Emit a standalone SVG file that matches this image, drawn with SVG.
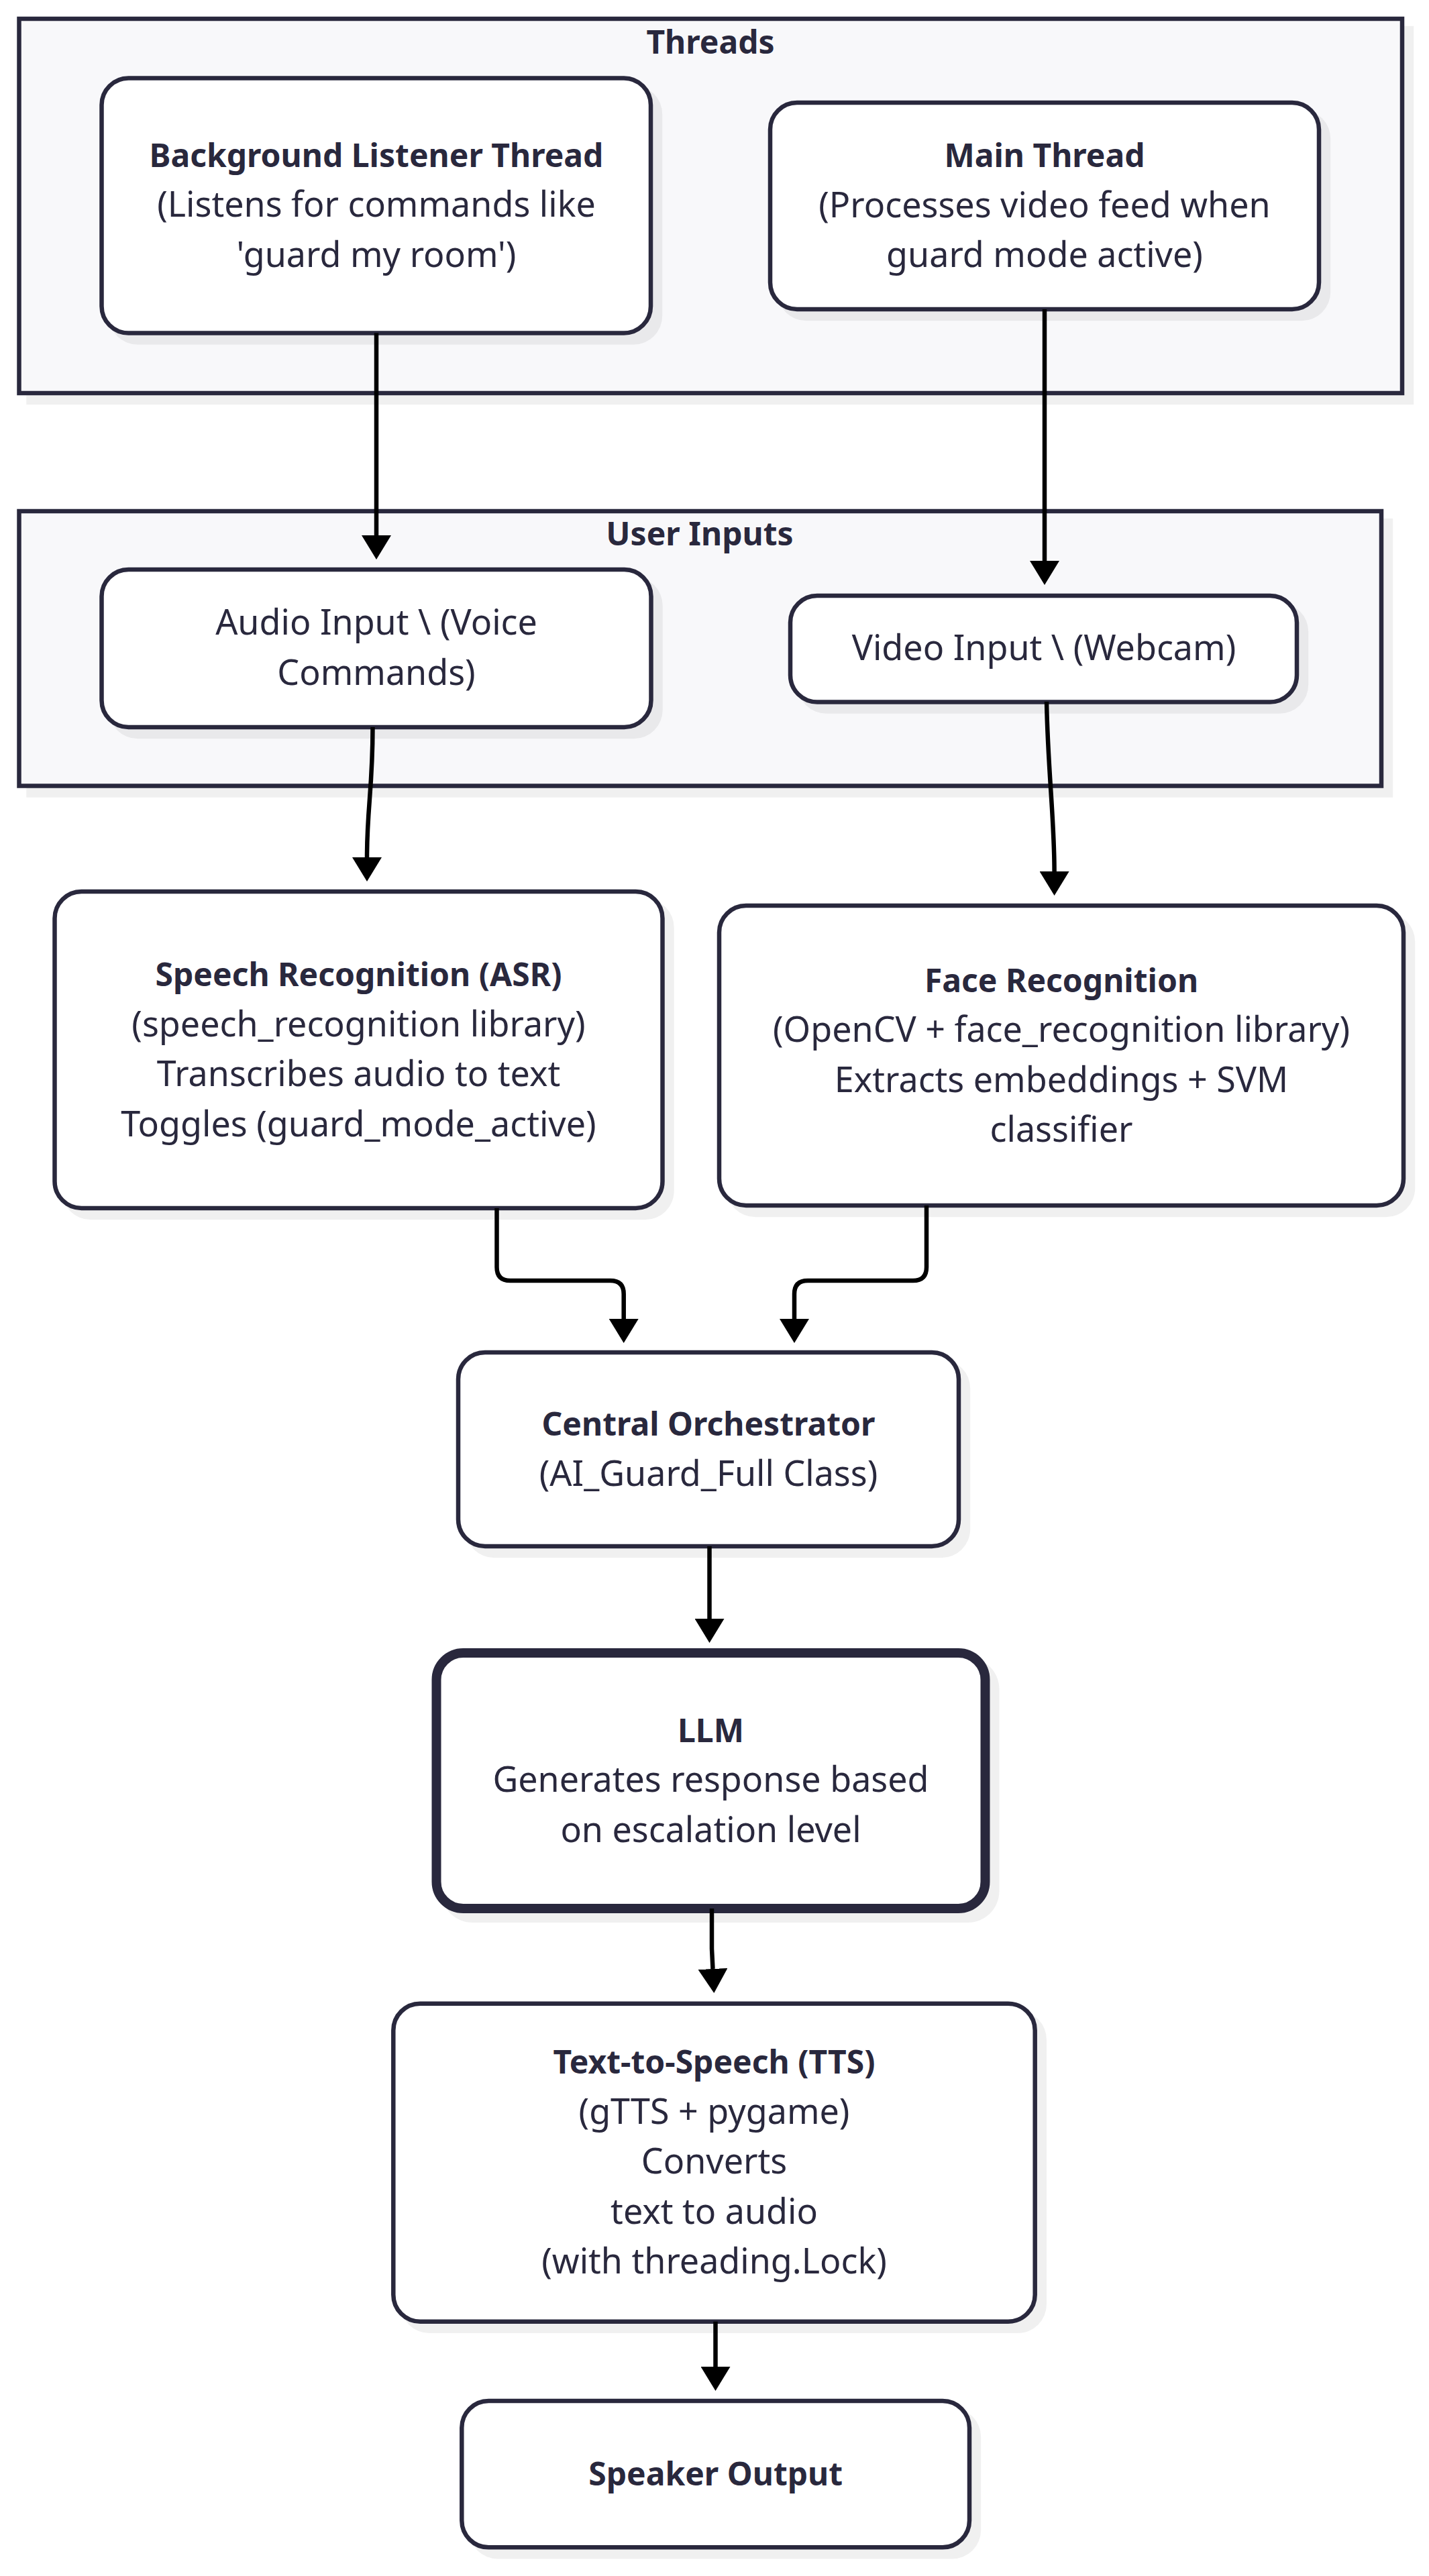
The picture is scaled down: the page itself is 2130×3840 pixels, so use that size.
<svg xmlns="http://www.w3.org/2000/svg" width="2130" height="3840" viewBox="0 0 2130 3840">
<defs>
<style>
.cluster{fill:#f8f8fa;stroke:#29283d;stroke-width:6.5}
.node{fill:#ffffff;stroke:#29283d;stroke-width:6.5}
.thick{stroke-width:14}
.shadow{fill:#000000;fill-opacity:0.06}
.edge{fill:none;stroke:#000000;stroke-width:6.5;marker-end:url(#arrow)}
text{font-family:"Noto Sans","Liberation Sans",sans-serif;fill:#29283d;text-anchor:middle}
.t{font-size:52px}
.b{font-size:48px;font-weight:700}
</style>
<marker id="arrow" viewBox="0 0 36 44" markerWidth="36" markerHeight="44" markerUnits="userSpaceOnUse" refX="0" refY="22" orient="auto">
<path d="M0,0 L36,22 L0,44 Z" fill="#000000"/>
</marker>
</defs>
<rect width="2130" height="3840" fill="#ffffff"/>

<g id="cluster-threads">
<rect class="shadow" x="39.25" y="38.75" width="2068" height="564.5"/>
<rect class="cluster" x="28.5" y="28" width="2061.5" height="558"/>
<text class="b" x="1059" y="80">Threads</text>
</g>
<g id="cluster-user-inputs">
<rect class="shadow" x="39.25" y="772.75" width="2037" height="416"/>
<rect class="cluster" x="28.5" y="762" width="2030.5" height="409.5"/>
<text class="b" x="1043" y="813">User Inputs</text>
</g>

<g id="node-background-listener">
<rect class="shadow" x="162.25" y="127.25" width="825" height="386.5" rx="43"/>
<rect class="node" x="151.5" y="116.5" width="818.5" height="380" rx="40"/>
<text class="b" x="561" y="248.5">Background Listener Thread</text>
<text class="t" x="561" y="323">(Listens for commands like</text>
<text class="t" x="561" y="397.5">'guard my room')</text>
</g>

<g id="node-main-thread">
<rect class="shadow" x="1158.75" y="163.75" width="824.5" height="314.5" rx="43"/>
<rect class="node" x="1148" y="153" width="818" height="308" rx="40"/>
<text class="b" x="1557" y="249">Main Thread</text>
<text class="t" x="1557" y="323.5">(Processes video feed when</text>
<text class="t" x="1557" y="398">guard mode active)</text>
</g>

<g id="node-audio-input">
<rect class="shadow" x="162.25" y="859.75" width="825.5" height="241.5" rx="43"/>
<rect class="node" x="151.5" y="849" width="819" height="235" rx="40"/>
<text class="t" x="561" y="946">Audio Input \ (Voice</text>
<text class="t" x="561" y="1020.5">Commands)</text>
</g>

<g id="node-video-input">
<rect class="shadow" x="1188.75" y="898.75" width="761.5" height="165" rx="43"/>
<rect class="node" x="1178" y="888" width="755" height="158.5" rx="40"/>
<text class="t" x="1556" y="983.5">Video Input \ (Webcam)</text>
</g>

<g id="node-speech-recognition">
<rect class="shadow" x="92.25" y="1339.75" width="912.5" height="478.5" rx="43"/>
<rect class="node" x="81.5" y="1329" width="906" height="472" rx="40"/>
<text class="b" x="534.5" y="1470">Speech Recognition (ASR)</text>
<text class="t" x="534.5" y="1544.5">(speech_recognition library)</text>
<text class="t" x="534.5" y="1619">Transcribes audio to text</text>
<text class="t" x="534.5" y="1693.5">Toggles (guard_mode_active)</text>
</g>

<g id="node-face-recognition">
<rect class="shadow" x="1082.75" y="1360.75" width="1026.5" height="453.5" rx="43"/>
<rect class="node" x="1072" y="1350" width="1020" height="447" rx="40"/>
<text class="b" x="1582" y="1478.5">Face Recognition</text>
<text class="t" x="1582" y="1553">(OpenCV + face_recognition library)</text>
<text class="t" x="1582" y="1627.5">Extracts embeddings + SVM</text>
<text class="t" x="1582" y="1702">classifier</text>
</g>

<g id="node-central-orchestrator">
<rect class="shadow" x="693.75" y="2026.75" width="752.5" height="295.5" rx="43"/>
<rect class="node" x="683" y="2016" width="746" height="289" rx="40"/>
<text class="b" x="1056" y="2140">Central Orchestrator</text>
<text class="t" x="1056" y="2214.5">(AI_Guard_Full Class)</text>
</g>

<g id="node-llm">
<rect class="shadow" x="657.5" y="2471" width="832" height="395" rx="47"/>
<rect class="node thick" x="650.5" y="2464" width="818" height="381" rx="40"/>
<text class="b" x="1059.5" y="2596.5">LLM</text>
<text class="t" x="1059.5" y="2671">Generates response based</text>
<text class="t" x="1059.5" y="2745.5">on escalation level</text>
</g>

<g id="node-tts">
<rect class="shadow" x="597" y="2997.5" width="963" height="480.5" rx="43"/>
<rect class="node" x="586.3" y="2986.7" width="956.4" height="474" rx="40"/>
<text class="b" x="1064.5" y="3091">Text-to-Speech (TTS)</text>
<text class="t" x="1064.5" y="3166">(gTTS + pygame)</text>
<text class="t" x="1064.5" y="3240">Converts</text>
<text class="t" x="1064.5" y="3315">text to audio</text>
<text class="t" x="1064.5" y="3389">(with threading.Lock)</text>
</g>

<g id="node-speaker-output">
<rect class="shadow" x="699" y="3589.75" width="763.2" height="224.8" rx="43"/>
<rect class="node" x="688.3" y="3579" width="756.7" height="218.3" rx="40"/>
<text class="b" x="1066.7" y="3704.5">Speaker Output</text>
</g>

<g id="connectors">
<path class="edge" d="M561,496.5 L561,798"/>
<path class="edge" d="M1557,461 L1557,836"/>
<path class="edge" d="M555.5,1084 C555.5,1175 547,1205 547,1278"/>
<path class="edge" d="M1560,1046 C1562,1150 1571.6,1220 1571.6,1299"/>
<path class="edge" d="M740.5,1801 L740.5,1889 Q740.5,1909 760.5,1909 L909.7,1909 Q929.7,1909 929.7,1929 L929.7,1966"/>
<path class="edge" d="M1381,1797 L1381,1889 Q1381,1909 1361,1909 L1204,1909 Q1184,1909 1184,1929 L1184,1966"/>
<path class="edge" d="M1057.5,2305 L1057.5,2413"/>
<path class="edge" d="M1061,2845 L1061,2905 L1062.5,2935"/>
<path class="edge" d="M1066.5,3460.7 L1066.5,3528"/>
</g>
</svg>
